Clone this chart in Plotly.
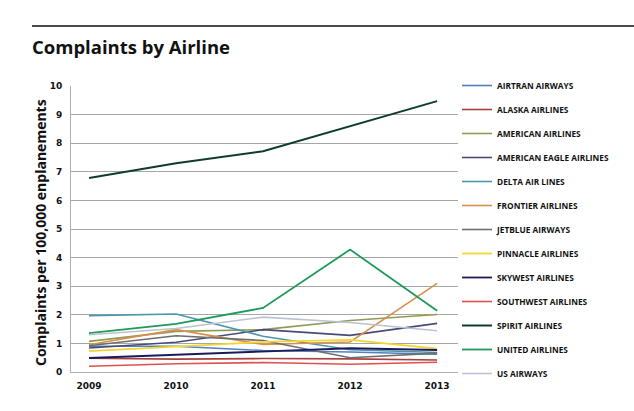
import plotly.graph_objects as go

years = [2009, 2010, 2011, 2012, 2013]
airlines = ["AIRTRAN AIRWAYS", "ALASKA AIRLINES", "AMERICAN AIRLINES",
            "AMERICAN EAGLE AIRLINES", "DELTA AIR LINES", "FRONTIER AIRLINES",
            "JETBLUE AIRWAYS", "PINNACLE AIRLINES", "SKYWEST AIRLINES",
            "SOUTHWEST AIRLINES", "SPIRIT AIRLINES", "UNITED AIRLINES", "US AIRWAYS"]

airtran = [0.90, 0.90, 0.75, 0.70, 0.62]
alaska = [0.48, 0.45, 0.47, 0.46, 0.42]
american = [1.07, 1.42, 1.48, 1.80, 2.01]
american_eagle = [0.84, 1.04, 1.48, 1.28, 1.70]
delta = [1.97, 2.03, 1.25, 0.78, 0.68]
frontier = [0.95, 1.48, 0.96, 1.05, 3.10]
jetblue = [0.92, 1.27, 1.10, 0.50, 0.66]
pinnacle = [0.73, 0.90, 1.05, 1.12, 0.82]
skywest = [0.49, 0.60, 0.73, 0.83, 0.77]
southwest = [0.20, 0.29, 0.33, 0.27, 0.34]
spirit = [6.78, 7.30, 7.72, 8.60, 9.47]
united = [1.36, 1.68, 2.24, 4.28, 2.14]
us_airways = [1.30, 1.52, 1.92, 1.73, 1.44]

series = [airtran, alaska, american, american_eagle, delta, frontier, jetblue,
          pinnacle, skywest, southwest, spirit, united, us_airways]
colors = ["#4f81bd", "#a8403e", "#8f9a55", "#4a4a78", "#4a96ad", "#d9914a",
          "#6e6e6e", "#f2d630", "#1c1a5a", "#e0504f", "#0f3d2c", "#1e9a5a", "#b9c3d3"]
widths = [1.6, 1.6, 1.6, 1.6, 1.6, 1.6, 1.6, 1.8, 1.8, 1.6, 2.0, 1.8, 1.6]

fig = go.Figure()
for i, (name, vals) in enumerate(zip(airlines, series)):
    fig.add_trace(go.Scatter(x=years, y=vals, mode="lines", name=name,
                             legendgroup=f"g{i}",
                             legend="legend" if i < 7 else "legend2",
                             line=dict(color=colors[i], width=widths[i])))

L, R, T, B = 71, 176, 86, 39
W, H = 634, 411
pw, ph = W - L - R, H - T - B

leg_common = dict(x=(457 - L) / pw, xanchor="left", yanchor="top",
                  traceorder="grouped", tracegroupgap=5, itemwidth=30,
                  font=dict(size=8.3, family="Open Sans", color="#111111", weight="bold"),
                  bgcolor="rgba(0,0,0,0)")

fig.update_layout(
    width=W, height=H,
    margin=dict(l=L, r=R, t=T, b=B),
    paper_bgcolor="white", plot_bgcolor="white",
    font=dict(family="Open Sans", color="#111111"),
    title=dict(text="<b>Complaints by Airline</b>", x=32 / W, xref="container",
               xanchor="left", y=1 - 48 / H, yref="container", yanchor="middle",
               font=dict(size=18.5, family="Open Sans", color="#111111")),
    showlegend=True,
    legend=dict(y=(372 - 71) / ph, **leg_common),
    legend2=dict(y=(372 - 71 - 7 * 24) / ph, **leg_common),
    xaxis=dict(range=[2008.793, 2013.24], tickvals=years,
               ticktext=[f"<b>{y}</b>" for y in years],
               showgrid=False, zeroline=False, showline=True, linecolor="#b0b0b0",
               ticks="outside", ticklen=5, tickcolor="rgba(0,0,0,0)",
               tickfont=dict(size=9, family="DejaVu Sans", color="#111111")),
    yaxis=dict(range=[0, 10], tickvals=list(range(11)),
               ticktext=[f"<b>{v}</b>" for v in range(11)],
               showgrid=True, gridcolor="#a6a6a6", gridwidth=1, zeroline=False,
               showline=True, linecolor="#b0b0b0",
               ticks="outside", ticklen=6, tickcolor="rgba(0,0,0,0)",
               tickfont=dict(size=9, family="DejaVu Sans", color="#111111")),
)

fig.add_annotation(text="<b>Complaints per 100,000 enplanements</b>", textangle=-90,
                   xref="paper", yref="paper", x=(40 - L) / pw, y=(372 - 233) / ph,
                   xanchor="center", yanchor="middle", showarrow=False,
                   font=dict(size=14, family="Open Sans", color="#111111"))

fig.add_shape(type="line", xref="paper", yref="paper",
              x0=(32 - L) / pw, x1=(634 - L) / pw, y0=(372 - 26) / ph, y1=(372 - 26) / ph,
              line=dict(color="#111111", width=1.5))

fig.write_html("out.html", config={"displayModeBar": False},
               post_script="document.body.style.margin='0';")
